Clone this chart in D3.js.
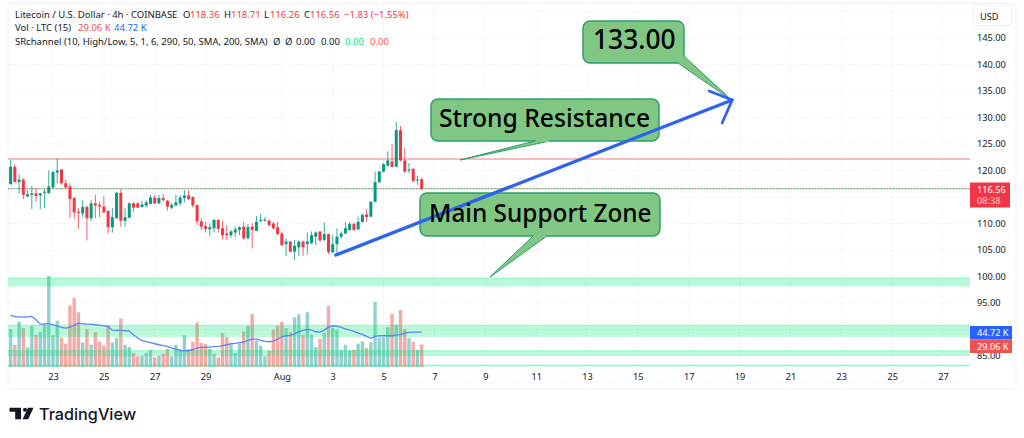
<!DOCTYPE html>
<html>
<head>
<meta charset="utf-8">
<script src="https://cdn.jsdelivr.net/npm/d3@7"></script>
<style>
  html, body { margin: 0; padding: 0; background: #fff; overflow: hidden; }
  svg { display: block; }
  text { font-family: 'Noto Sans', sans-serif; }
</style>
</head>
<body>
<svg width="1024" height="438"></svg>
<script>
const WIDTH = 1024;
const HEIGHT = 438;

// 4h candles, first one is Jul 21 08:00
const FIRST_CANDLE = Date.UTC(2025, 6, 21, 8);
const opens = [117.4,120.7,117.8,118.3,115.1,115.4,115.7,115.3,115.8,115.7,116.8,119.6,120.2,117.6,117.0,114.8,112.2,111.9,113.1,111.0,113.8,113.5,113.2,112.4,109.3,111.0,115.8,110.5,111.1,113.8,113.8,113.1,113.4,113.7,114.9,113.8,114.8,114.3,113.0,113.4,113.8,114.8,115.3,115.0,113.5,110.4,109.5,108.9,109.1,110.7,109.1,108.1,107.8,108.3,108.8,109.4,107.2,109.4,108.6,110.5,110.5,110.5,110.0,109.3,108.1,106.1,106.6,104.7,105.5,106.6,106.1,106.3,107.5,108.5,106.9,108.0,104.6,106.1,107.5,108.1,108.8,109.9,108.9,110.3,111.7,111.3,114.1,117.8,119.8,120.9,121.7,120.7,127.6,121.9,120.0,120.3,118.1,118.36];
const highs = [122.0,121.2,119.3,118.5,116.3,117.1,116.6,115.7,116.5,120.0,120.0,122.3,120.2,118.3,117.6,115.0,112.9,114.4,113.4,114.4,115.4,114.1,115.1,112.4,112.9,116.0,116.5,112.9,114.0,114.0,114.0,114.3,114.4,115.4,115.4,115.4,115.6,114.4,113.8,115.4,115.4,116.3,116.3,115.1,113.5,111.0,110.4,110.0,110.8,110.7,110.5,109.7,108.8,109.4,109.5,110.3,109.9,110.0,111.4,111.8,111.2,110.8,110.3,110.3,108.5,107.2,106.6,106.9,106.8,106.8,108.3,108.5,108.5,108.5,110.2,108.1,107.8,109.1,108.5,110.2,110.3,110.2,111.3,111.9,112.7,114.2,119.8,119.9,121.4,123.6,125.0,129.2,128.4,124.2,121.4,120.4,119.0,118.71];
const lows = [117.4,117.8,115.6,114.6,115.0,112.7,114.1,112.7,112.9,115.7,116.6,117.6,117.3,116.5,111.0,110.9,109.0,111.2,106.8,110.5,111.0,111.2,112.0,108.1,108.3,110.9,109.4,109.4,111.0,112.2,112.9,113.0,113.0,113.6,113.7,113.7,114.1,112.4,112.7,113.3,113.3,114.0,114.4,113.0,109.7,108.7,108.3,107.6,108.3,108.3,107.0,106.9,107.3,107.4,107.8,106.9,107.0,105.3,108.6,110.2,110.3,109.5,108.8,107.8,105.8,103.9,104.5,103.1,103.9,103.9,104.1,106.1,105.9,106.6,106.6,104.2,104.4,104.4,107.1,108.0,108.6,108.6,108.8,110.2,110.3,111.2,114.0,117.6,119.6,120.7,120.6,120.6,121.7,119.5,119.5,117.8,117.3,116.26];
const closes = [120.7,117.8,118.3,115.4,115.5,115.7,115.2,115.7,116.0,117.0,119.7,120.0,117.6,116.8,114.6,112.1,112.0,113.1,111.0,113.8,113.4,113.2,112.1,109.3,111.2,115.8,110.5,111.2,113.8,113.0,113.0,113.6,114.0,114.9,113.8,114.8,114.4,113.2,113.5,114.0,114.9,115.3,114.6,113.4,110.4,109.4,109.0,109.3,110.7,109.0,107.8,107.8,108.5,108.9,109.3,107.2,109.3,108.8,110.3,110.7,110.7,109.7,109.1,108.0,105.9,106.6,104.7,105.8,106.6,105.5,106.6,107.8,108.3,106.8,108.0,104.6,106.1,107.5,108.1,109.1,109.9,108.8,110.3,111.6,111.2,114.1,117.8,119.8,121.2,121.9,120.7,127.6,121.9,119.8,120.2,118.0,118.3,116.56];

// thousands of LTC
const volumes = [48.7,28.6,58.1,50,25.2,53,41.5,44.9,54.3,117,40.6,59.4,37.6,29.9,79,88.9,70.5,31.6,49.1,28.6,44.9,32.9,27.4,53.4,31.6,37.6,62.4,28.6,25.6,17.9,13.7,14.5,17.9,22.2,12.4,14.5,17.1,23.5,13.7,28.6,23.1,40.6,23.1,32.5,57.3,30.8,29.5,23.5,17.1,12.4,43.6,38.5,28.6,17.9,29.9,45.7,53,67.9,33.8,27.4,13.7,20.9,47.9,53,58.1,50,44.9,63.7,67.9,41.5,70.5,41.5,25.6,36.3,43.6,78.6,50,47.9,22.2,28.6,21.4,22.2,29.9,32.9,24.4,31.6,83.8,38,38.5,51.3,68.4,54.3,73.5,48.7,37.2,32.5,22.2,29.06];
const volumeMa = [66.7,64.5,64.5,64.1,64.5,65,60.7,55.1,55.1,56,54.3,53,50.9,50,51.3,53.8,56.4,55.6,55.1,55.1,54.3,53.8,53,52.1,47.4,47,47,46.6,46.2,41.5,37.2,33.8,32.5,31.2,29.9,28.6,27.4,26.5,24.4,23.1,21.4,20.9,20.9,22.2,24.4,25.2,25.6,25.6,26.1,26.5,27.4,28.6,29.9,30.3,31.2,32.1,34.2,35.9,35.9,34.2,32.9,32.5,33.3,35.9,38.9,40.2,40.6,42.7,45.3,47,48.3,47.4,45.3,44.9,47.4,51.3,53,52.6,50.9,49.1,47.4,45.7,43.6,41.9,39.3,36.8,39.3,40.2,40.2,40.2,40.2,41,41.9,43.6,44.4,44.9,44.9,44.72];

const priceTicks = [85,90,95,100,105,110,115,120,125,130,135,140,145];
// 90 and 115 sit behind the volume and last price tags
const priceLabels = [85,95,100,105,110,120,125,130,135,140,145];
const dateTicks = [
  [2025,6,23],[2025,6,25],[2025,6,27],[2025,6,29],[2025,7,1],[2025,7,3],[2025,7,5],[2025,7,7],[2025,7,9],
  [2025,7,11],[2025,7,13],[2025,7,15],[2025,7,17],[2025,7,19],[2025,7,21],[2025,7,23],[2025,7,25],[2025,7,27],
].map((d) => new Date(Date.UTC(d[0], d[1], d[2])));

// price ranges of the SRchannel zones
const zones = [[99.7,98.1],[90.8,88.6],[86.0,85.0],[83.3,83.0]];
const RESISTANCE = 122.15;
const LAST_PRICE = 116.56;

const trendTimes = [Date.UTC(2025,7,3,3), Date.UTC(2025,7,18,17)];
const trendPrices = [104.05, 133.3];

const GREEN = '#089981';
const RED = '#f23645';
const BLUE = '#2962ff';
const INK = '#131722';

const svg = d3.select('svg');

const x = d3.scaleUtc()
  .domain([new Date(Date.UTC(2025,6,23)), new Date(Date.UTC(2025,7,27))])
  .range([53, 943]);
const y = d3.scaleLinear().domain([85, 145]).range([356, 38]);
const volY = d3.scaleLinear().domain([0, 117]).range([367, 276]);

const candleX = (i) => x(new Date(FIRST_CANDLE + i * 4 * 3600 * 1000));
const candleIdx = d3.range(opens.length);

function drawFrame() {
  svg.append('rect').attr('width', WIDTH).attr('height', HEIGHT).attr('fill', '#fff');
  svg.append('rect')
    .attr('x', 8).attr('y', 3.5).attr('width', 1008).attr('height', 385.5)
    .attr('fill', 'none').attr('stroke', '#f0f1f4').attr('stroke-width', 1);

  svg.append('g').selectAll('line')
    .data(priceTicks.concat([150, 80]))
    .join('line')
    .attr('x1', 8).attr('x2', 970)
    .attr('y1', (d) => y(d)).attr('y2', (d) => y(d))
    .attr('stroke', '#f0f3fa').attr('stroke-dasharray', '2,1');

  svg.append('g').selectAll('line')
    .data(dateTicks)
    .join('line')
    .attr('x1', (d) => x(d)).attr('x2', (d) => x(d))
    .attr('y1', 4).attr('y2', 367)
    .attr('stroke', '#f0f3fa').attr('stroke-dasharray', '2,1');
}

function drawVolume() {
  svg.append('g').selectAll('rect')
    .data(candleIdx)
    .join('rect')
    .attr('x', (i) => candleX(i) - 1.7)
    .attr('width', 3.4)
    .attr('y', (i) => volY(volumes[i]))
    .attr('height', (i) => volY(0) - volY(volumes[i]))
    .attr('fill', (i) => (closes[i] >= opens[i] ? '#26a69a' : '#ef5350'))
    .attr('opacity', 0.5);
}

function drawZones() {
  const g = svg.append('g');
  zones.forEach((z) => {
    g.append('rect')
      .attr('x', 8).attr('width', 962)
      .attr('y', y(z[0])).attr('height', y(z[1]) - y(z[0]))
      .attr('fill', '#00e676').attr('opacity', 0.27);
    g.append('line')
      .attr('x1', 8).attr('x2', 970)
      .attr('y1', y(z[0])).attr('y2', y(z[0]))
      .attr('stroke', '#00e676').attr('opacity', 0.3);
  });
}

function drawVolumeMa() {
  svg.append('path')
    .datum(candleIdx)
    .attr('fill', 'none')
    .attr('stroke', '#5b86f5')
    .attr('stroke-width', 1.3)
    .attr('d', d3.line().x((i) => candleX(i)).y((i) => volY(volumeMa[i])));
}

function drawPriceLines() {
  svg.append('line')
    .attr('x1', 8).attr('x2', 970)
    .attr('y1', y(RESISTANCE)).attr('y2', y(RESISTANCE))
    .attr('stroke', '#f7a6a6').attr('stroke-width', 1.5);
  svg.append('line')
    .attr('x1', 8).attr('x2', 970)
    .attr('y1', y(LAST_PRICE)).attr('y2', y(LAST_PRICE))
    .attr('stroke', '#7fd6a8').attr('stroke-width', 1);
  svg.append('line')
    .attr('x1', 8).attr('x2', 970)
    .attr('y1', y(LAST_PRICE)).attr('y2', y(LAST_PRICE))
    .attr('stroke', RED).attr('stroke-opacity', 0.7).attr('stroke-dasharray', '1,2');
}

function drawCandles() {
  const color = (i) => (closes[i] >= opens[i] ? GREEN : RED);
  const g = svg.append('g');
  g.selectAll('line')
    .data(candleIdx)
    .join('line')
    .attr('x1', (i) => candleX(i)).attr('x2', (i) => candleX(i))
    .attr('y1', (i) => y(highs[i])).attr('y2', (i) => y(lows[i]))
    .attr('stroke', color).attr('stroke-width', 1).attr('stroke-opacity', 0.8);
  g.selectAll('rect')
    .data(candleIdx)
    .join('rect')
    .attr('x', (i) => candleX(i) - 1.5)
    .attr('width', 3)
    .attr('y', (i) => y(Math.max(opens[i], closes[i])))
    .attr('height', (i) => Math.max(1, Math.abs(y(opens[i]) - y(closes[i]))))
    .attr('fill', color);
}

function drawAxes() {
  const yAxis = svg.append('g')
    .attr('transform', 'translate(970, 0)')
    .call(d3.axisRight(y).tickValues(priceLabels).tickSize(0).tickPadding(7).tickFormat(d3.format('.2f')));
  yAxis.select('.domain').remove();
  yAxis.selectAll('text').attr('font-size', 9.2).attr('fill', INK).style('font-family', "'Noto Sans', sans-serif");

  const dateFormat = (d) => (d.getUTCDate() === 1 ? 'Aug' : d3.utcFormat('%-d')(d));
  const xAxis = svg.append('g')
    .attr('transform', 'translate(0, 367)')
    .call(d3.axisBottom(x).tickValues(dateTicks).tickSize(0).tickPadding(6).tickFormat(dateFormat));
  xAxis.select('.domain').remove();
  xAxis.selectAll('text').attr('font-size', 9.2).attr('fill', INK).style('font-family', "'Noto Sans', sans-serif");

  // USD button
  svg.append('rect')
    .attr('x', 973).attr('y', 5.5).attr('width', 39).attr('height', 20).attr('rx', 3)
    .attr('fill', '#fff').attr('stroke', '#eceef2');
  svg.append('text').attr('x', 980).attr('y', 19.5).attr('font-size', 9.2).attr('fill', INK).text('USD');

  const label = (top, h, w, fill, lines) => {
    svg.append('rect').attr('x', 970).attr('y', top).attr('width', w).attr('height', h).attr('fill', fill);
    lines.forEach((l) => {
      svg.append('text')
        .attr('x', 977).attr('y', l.y)
        .attr('font-size', 9.2).attr('fill', l.fill || '#fff')
        .text(l.text);
    });
  };
  label(182.5, 25, 40, RED, [{text: '116.56', y: 193}, {text: '08:38', y: 204, fill: '#fbd0d4'}]);
  label(326, 13.5, 42, BLUE, [{text: '44.72 K', y: 336}]);
  label(339.5, 13.5, 42, '#ef5350', [{text: '29.06 K', y: 349.5}]);
}

function drawCallouts() {
  const fill = '#81c784';
  const stroke = '#2f9e6e';
  const boxes = [
    {label: 'Main Support Zone', x0: 420, y0: 193, x1: 660, y1: 236, tail: [[533,236],[490,277],[547,236]], tx: 429, size: 24.4},
    {label: 'Strong Resistance', x0: 431, y0: 99, x1: 659, y1: 141, tail: [[535,141],[460,160],[550,141]], tx: 439, size: 24.7},
    {label: '133.00', x0: 583, y0: 21, x1: 684, y1: 63, tail: [[678,63],[732,100.5],[684,56]], tx: 593, size: 26.4},
  ];
  const line = d3.line();
  boxes.forEach((b) => {
    svg.append('rect')
      .attr('x', b.x0).attr('y', b.y0).attr('width', b.x1 - b.x0).attr('height', b.y1 - b.y0).attr('rx', 7)
      .attr('fill', fill).attr('stroke', stroke).attr('stroke-width', 1.5);
    svg.append('path')
      .attr('d', line(b.tail)).attr('fill', fill).attr('stroke', stroke).attr('stroke-width', 1);
    // hide the tail edge where it meets the box
    svg.append('line')
      .attr('x1', b.tail[0][0] + 1).attr('y1', b.tail[0][1])
      .attr('x2', b.tail[2][0] - 1).attr('y2', b.tail[2][1])
      .attr('stroke', fill).attr('stroke-width', 2);
  });

  const x0 = x(new Date(trendTimes[0]));
  const x1 = x(new Date(trendTimes[1]));
  const y0 = y(trendPrices[0]);
  const y1 = y(trendPrices[1]);
  svg.append('line')
    .attr('x1', x0).attr('y1', y0).attr('x2', x1).attr('y2', y1)
    .attr('stroke', '#2f63ee').attr('stroke-width', 3.4).attr('stroke-linecap', 'round');
  svg.append('path')
    .attr('d', line([[x1 - 23, y1 - 9], [x1, y1], [x1 - 10, y1 + 23]]))
    .attr('fill', 'none').attr('stroke', '#2f63ee').attr('stroke-width', 2.8).attr('stroke-linecap', 'round');

  boxes.forEach((b) => {
    svg.append('text')
      .attr('x', b.tx).attr('y', (b.y0 + b.y1) / 2 + 7)
      .attr('font-size', b.size).attr('fill', '#000').attr('font-weight', 500)
      .text(b.label);
  });
}

function drawLegend() {
  const g = svg.append('g').attr('font-size', 9.5);
  const put = (px, py, text, fill) => {
    g.append('text').attr('x', px).attr('y', py).attr('fill', fill || INK).text(text);
  };
  put(15, 17.5, 'Litecoin / U.S. Dollar · 4h · COINBASE');
  put(183, 17.5, 'O'); put(190, 17.5, '118.36', RED);
  put(224, 17.5, 'H'); put(231, 17.5, '118.71', RED);
  put(264, 17.5, 'L'); put(270, 17.5, '116.26', RED);
  put(304, 17.5, 'C'); put(310, 17.5, '116.56', RED);
  put(344, 17.5, '−1.83 (−1.55%)', RED);
  put(15, 31, 'Vol · LTC (15)');
  put(78, 31, '29.06 K', '#ef5350');
  put(114, 31, '44.72 K', BLUE);
  put(15, 44.5, 'SRchannel (10, High/Low, 5, 1, 6, 290, 50, SMA, 200, SMA)');
  put(273, 44.5, 'Ø'); put(285, 44.5, 'Ø');
  put(296, 44.5, '0.00'); put(321, 44.5, '0.00');
  put(345, 44.5, '0.00', '#00e676'); put(370, 44.5, '0.00', '#ff5252');
}

function drawLogo() {
  const g = svg.append('g').attr('fill', INK);
  g.append('path').attr('d', 'M9.5 407.7H21V419.3H15.2V411.7H9.5Z');
  g.append('circle').attr('cx', 25).attr('cy', 409.7).attr('r', 2);
  g.append('path').attr('d', 'M28 407.7H33.5L28.2 419.3H22.6Z');
  g.append('text')
    .attr('x', 39).attr('y', 420)
    .attr('font-size', 16.2).attr('font-weight', 500)
    .style('font-family', "'Inter', sans-serif")
    .text('TradingView');
}

drawFrame();
drawVolume();
drawZones();
drawVolumeMa();
drawPriceLines();
drawCandles();
drawAxes();
drawCallouts();
drawLegend();
drawLogo();
</script>
</body>
</html>
